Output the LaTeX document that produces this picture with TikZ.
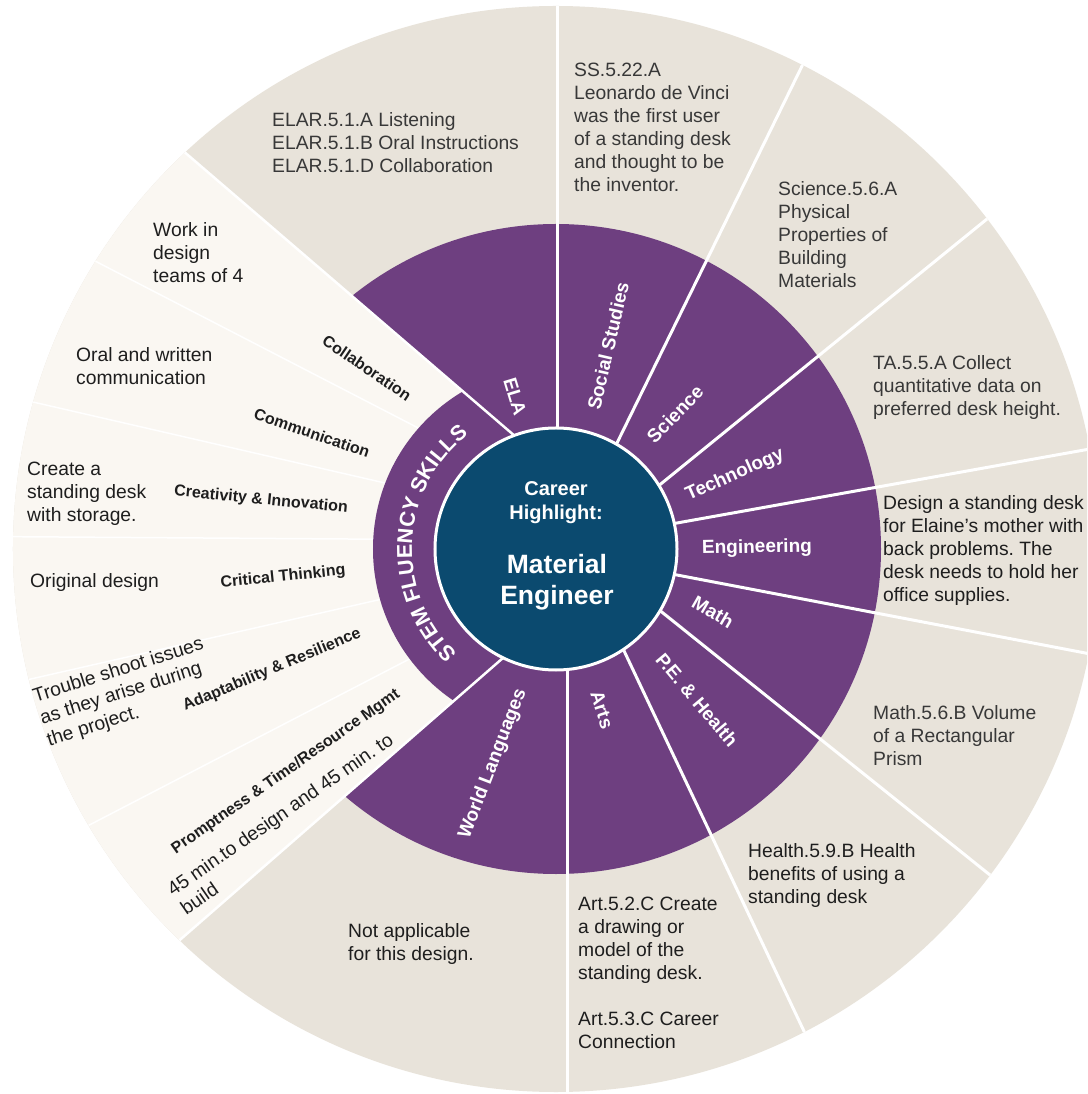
\documentclass[tikz,border=0pt]{standalone}
\usepackage{fontspec}
\setmainfont{Liberation Sans}
\usetikzlibrary{calc,decorations.text}
\definecolor{beigeC}{HTML}{E8E3DA}
\definecolor{creamC}{HTML}{FAF7F2}
\definecolor{purpC}{HTML}{6E3F80}
\definecolor{navyC}{HTML}{0B4A6F}
\definecolor{txtC}{HTML}{383838}
\definecolor{txtD}{HTML}{1E1E1E}
\newcommand\stemfont{\fontsize{21.5}{24}\selectfont\bfseries}
\frenchspacing
\begin{document}
\begin{tikzpicture}[x=1pt,y=1pt,
  body/.style={font=\fontsize{19.3}{23}\selectfont, text=txtC, align=left, anchor=north west, inner sep=0pt},
  bodyD/.style={body, text=txtD},
  subj/.style={font=\fontsize{19}{22}\selectfont\bfseries, text=white, inner sep=0pt},
  skill/.style={font=\fontsize{16}{19}\selectfont\bfseries, text=txtD, inner sep=0pt},
  divider/.style={draw=white, line width=3pt},
  fanline/.style={draw=white, line width=2.5pt},
  faint/.style={draw=white, line width=1.5pt},
  center/.style={font=\fontsize{20}{24}\selectfont\bfseries, text=white, align=center, anchor=north, inner sep=0pt},
  bigcenter/.style={font=\fontsize{26.5}{31}\selectfont\bfseries, text=white, align=center, anchor=north, inner sep=0pt}
]
\fill[white] (-556,-545) rectangle (531,549);
\clip (-556,-545) rectangle (531,549);

\coordinate (O) at (0,0);
\coordinate (A) at (81,8);
\coordinate (F0) at (133.1:543);
\coordinate (F1) at (148:543);
\coordinate (F2) at (164.3:543);
\coordinate (F3) at (178.7:543);
\coordinate (F4) at (193.9:543);
\coordinate (F5) at (210.6:543);
\coordinate (F6) at (226.1:543);

% base disks
\fill[beigeC] (O) circle[radius=543];
\fill[purpC] (O) circle[radius=325];
\begin{scope}
  \clip (O) circle[radius=543];
  \fill[creamC] (A) -- ($(A)!2!(F0)$) -- (-900,900) -- (-900,-900) -- ($(A)!2!(F6)$) -- cycle;
  \foreach \f in {F1,F2,F3,F4,F5} \draw[faint] (\f) -- (A);
\end{scope}
\fill[purpC] (O) circle[radius=183];
\draw[fanline] (F0) -- (A);
\draw[fanline] (F6) -- (A);

% subject dividers
\coordinate (D1a) at (1,121);   \coordinate (D1b) at (1,543);
\coordinate (D2a) at (61,106);  \coordinate (D2b) at (248,487);
\coordinate (D3a) at (106,66);  \coordinate (D3b) at (431,330);
\coordinate (D4a) at (121,26);  \coordinate (D4b) at (545,102);
\coordinate (D5a) at (121,-26); \coordinate (D5b) at (545,-107);
\coordinate (D6a) at (107,-64); \coordinate (D6b) at (434,-326);
\coordinate (D7a) at (70,-106); \coordinate (D7b) at (255,-497);
\coordinate (D8a) at (11,-120); \coordinate (D8b) at (11,-543);
\begin{scope}
  \clip (O) circle[radius=543];
  \foreach \i in {1,...,8}
    \draw[divider, shorten <=-15pt, shorten >=-20pt] (D\i a) -- (D\i b);
\end{scope}

% centre
\fill[navyC] (O) circle[radius=121];
\draw[white, line width=3pt] (O) circle[radius=121];
\node[center] (career) at (0,68) {Career\\Highlight:};
\node[bigcenter] (mat) at (1,-5) {Material\\Engineer};

% STEM band text
\path[decorate, decoration={text along path, text align=center, text color=white,
  text={|\stemfont|STEM FLUENCY SKILLS}}]
  (226:144) arc[start angle=226, end angle=128, radius=144];

% subject labels
\node[subj, rotate=-73] (lELA) at (-41,152) {ELA};
\node[subj, rotate=77] (lSS) at (52,203) {Social Studies};
\node[subj, rotate=46] (lSci) at (119,135) {Science};
\node[subj, rotate=24] (lTech) at (179,74) {Technology};
\node[subj, rotate=1] (lEng) at (201,1) {Engineering};
\node[subj, rotate=-30] (lMath) at (157,-63) {Math};
\node[subj, rotate=-50] (lPE) at (141,-151) {P.E. \& Health};
\node[subj, rotate=-72] (lArts) at (46,-161) {Arts};
\node[subj, rotate=69] (lWL) at (-63,-215) {World Languages};

% skill labels
\node[skill, rotate=-34] (kCol) at (-189,181) {Collaboration};
\node[skill, rotate=-19] (kCom) at (-244,116) {Communication};
\node[skill, rotate=-5.5] (kCre) at (-295,49) {Creativity \& Innovation};
\node[skill, rotate=5.7] (kCri) at (-273,-28) {Critical Thinking};
\node[skill, rotate=22.7] (kAda) at (-284,-121) {Adaptability \& Resilience};
\node[skill, rotate=35] (kPro) at (-270,-223) {Promptness \& Time/Resource Mgmt};

% outer texts
\node[body] (tELA) at (-284,437) {ELAR.5.1.A Listening\\ELAR.5.1.B Oral Instructions\\ELAR.5.1.D Collaboration};
\node[body] (tSS) at (18,486) {SS.5.22.A\\Leonardo de Vinci\\was the first user\\of a standing desk\\and thought to be\\the inventor.};
\node[body] (tSci) at (222,368) {Science.5.6.A\\Physical\\Properties of\\Building\\Materials};
\node[body] (tTech) at (317,194) {TA.5.5.A Collect\\quantitative data on\\preferred desk height.};
\node[bodyD] (tEng) at (327,54) {Design a standing desk\\for Elaine's mother with\\back problems. The\\desk needs to hold her\\office supplies.};
\node[body] (tMath) at (317,-156) {Math.5.6.B Volume\\of a Rectangular\\Prism};
\node[bodyD] (tHealth) at (192,-294) {Health.5.9.B Health\\benefits of using a\\standing desk};
\node[bodyD] (tArt) at (22,-348) {Art.5.2.C Create\\a drawing or\\model of the\\standing desk.\\[23pt]Art.5.3.C Career\\Connection};
\node[bodyD] (tWL) at (-208,-374) {Not applicable\\for this design.};

% cream texts
\node[bodyD] (cWork) at (-403,327) {Work in\\design\\teams of 4};
\node[bodyD] (cOral) at (-480,202) {Oral and written\\communication};
\node[bodyD] (cCreate) at (-529,87) {Create a\\standing desk\\with storage.};
\node[bodyD] (cOrig) at (-526,-24) {Original design};
\node[bodyD, rotate=17.6] (cTrouble) at (-525,-140) {Trouble shoot issues\\as they arise during\\the project.};
\node[bodyD, rotate=34.7] (cTime) at (-391,-336) {45 min.to design and 45 min. to\\build};
\end{tikzpicture}
\end{document}
